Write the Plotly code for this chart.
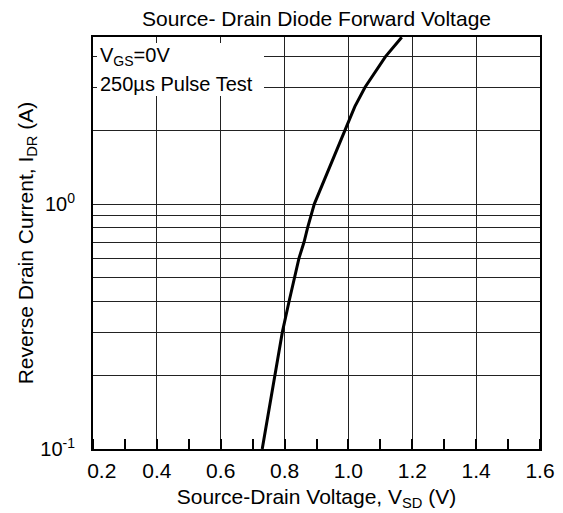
import plotly.graph_objects as go

# Data
vsd = [0.730, 0.770, 0.793, 0.814, 0.830, 0.845, 0.861, 0.872, 0.893, 0.948, 0.989, 1.020, 1.052, 1.116, 1.167]
idr = [0.10, 0.20, 0.30, 0.40, 0.50, 0.60, 0.70, 0.80, 1.0, 1.5, 2.0, 2.5, 3.0, 4.0, 4.8]

x_tickvals = [0.2, 0.4, 0.6, 0.8, 1.0, 1.2, 1.4, 1.6]
x_ticktext = ["\u00a0\u00a0\u00a00.2", "0.4", "0.6", "0.8", "1.0", "1.2", "1.4", "1.6"]
y_tickvals = [0.1, 0.2, 0.3, 0.4, 0.5, 0.6, 0.7, 0.8, 0.9, 1, 2, 3, 4]
y_ticktext = ["10<sup>-1</sup>", "", "", "", "", "", "", "", "", "10<sup>0</sup>", "", "", ""]

title_text = "Source- Drain Diode Forward Voltage"
x_title = "Source-Drain Voltage, V<sub>SD</sub> (V)"
y_title = "Reverse Drain Current, I<sub>DR</sub> (A)"
note1 = "V<sub>GS</sub>=0V"
note2 = "250\u00b5s Pulse Test"

FONT = "Liberation Sans, Arial, sans-serif"

fig = go.Figure()
fig.add_trace(go.Scatter(x=vsd, y=idr, mode="lines",
                         line=dict(color="black", width=3),
                         showlegend=False, hoverinfo="skip"))

fig.update_layout(
    width=563, height=513,
    margin=dict(l=93, r=23, t=37, b=64, autoexpand=False),
    paper_bgcolor="white", plot_bgcolor="white",
    font=dict(family=FONT, size=21, color="black"),
    title=dict(text=title_text, x=(93 + 540) / 2 / 563, xanchor="center",
               y=1 - 19 / 513, yanchor="middle", font=dict(size=21), automargin=False),
    showlegend=False,
)

fig.update_xaxes(
    range=[0.2, 1.6], tickvals=x_tickvals, ticktext=x_ticktext,
    showgrid=True, gridcolor="#222", gridwidth=1,
    showline=True, linecolor="black", linewidth=2, mirror=True,
    ticks="", ticklabelstandoff=2, automargin=False,
    minor=dict(dtick=0.1, tick0=0.2, ticks="inside", ticklen=10, tickwidth=2,
               tickcolor="black", showgrid=False),
    title=dict(text=x_title, font=dict(size=21), standoff=8),
    zeroline=False,
)
fig.update_yaxes(
    type="log", range=[-1, 0.682], tickvals=y_tickvals, ticktext=y_ticktext,
    showgrid=True, gridcolor="#222", gridwidth=1,
    showline=True, linecolor="black", linewidth=2, mirror=True,
    ticks="", ticklabelstandoff=12, automargin=False, tickfont=dict(size=20),
    title=dict(text=y_title, font=dict(size=21), standoff=1),
    zeroline=False,
)

# white box behind the notes
fig.add_shape(type="rect", xref="paper", yref="paper",
              x0=4 / 447, x1=171 / 447, y0=1 - 59 / 412, y1=1 - 6 / 412,
              fillcolor="white", line=dict(width=0), layer="above")

fig.add_annotation(text=note1, xref="paper", yref="paper", x=5 / 447, y=1 - 20 / 412,
                   xanchor="left", yanchor="middle", showarrow=False, font=dict(size=20))
fig.add_annotation(text=note2, xref="paper", yref="paper", x=5 / 447, y=1 - 47 / 412,
                   xanchor="left", yanchor="middle", showarrow=False, font=dict(size=20))

fig.write_html("out.html", config={"displayModeBar": False},
               post_script="document.body.style.margin='0';document.body.style.overflow='hidden';")
